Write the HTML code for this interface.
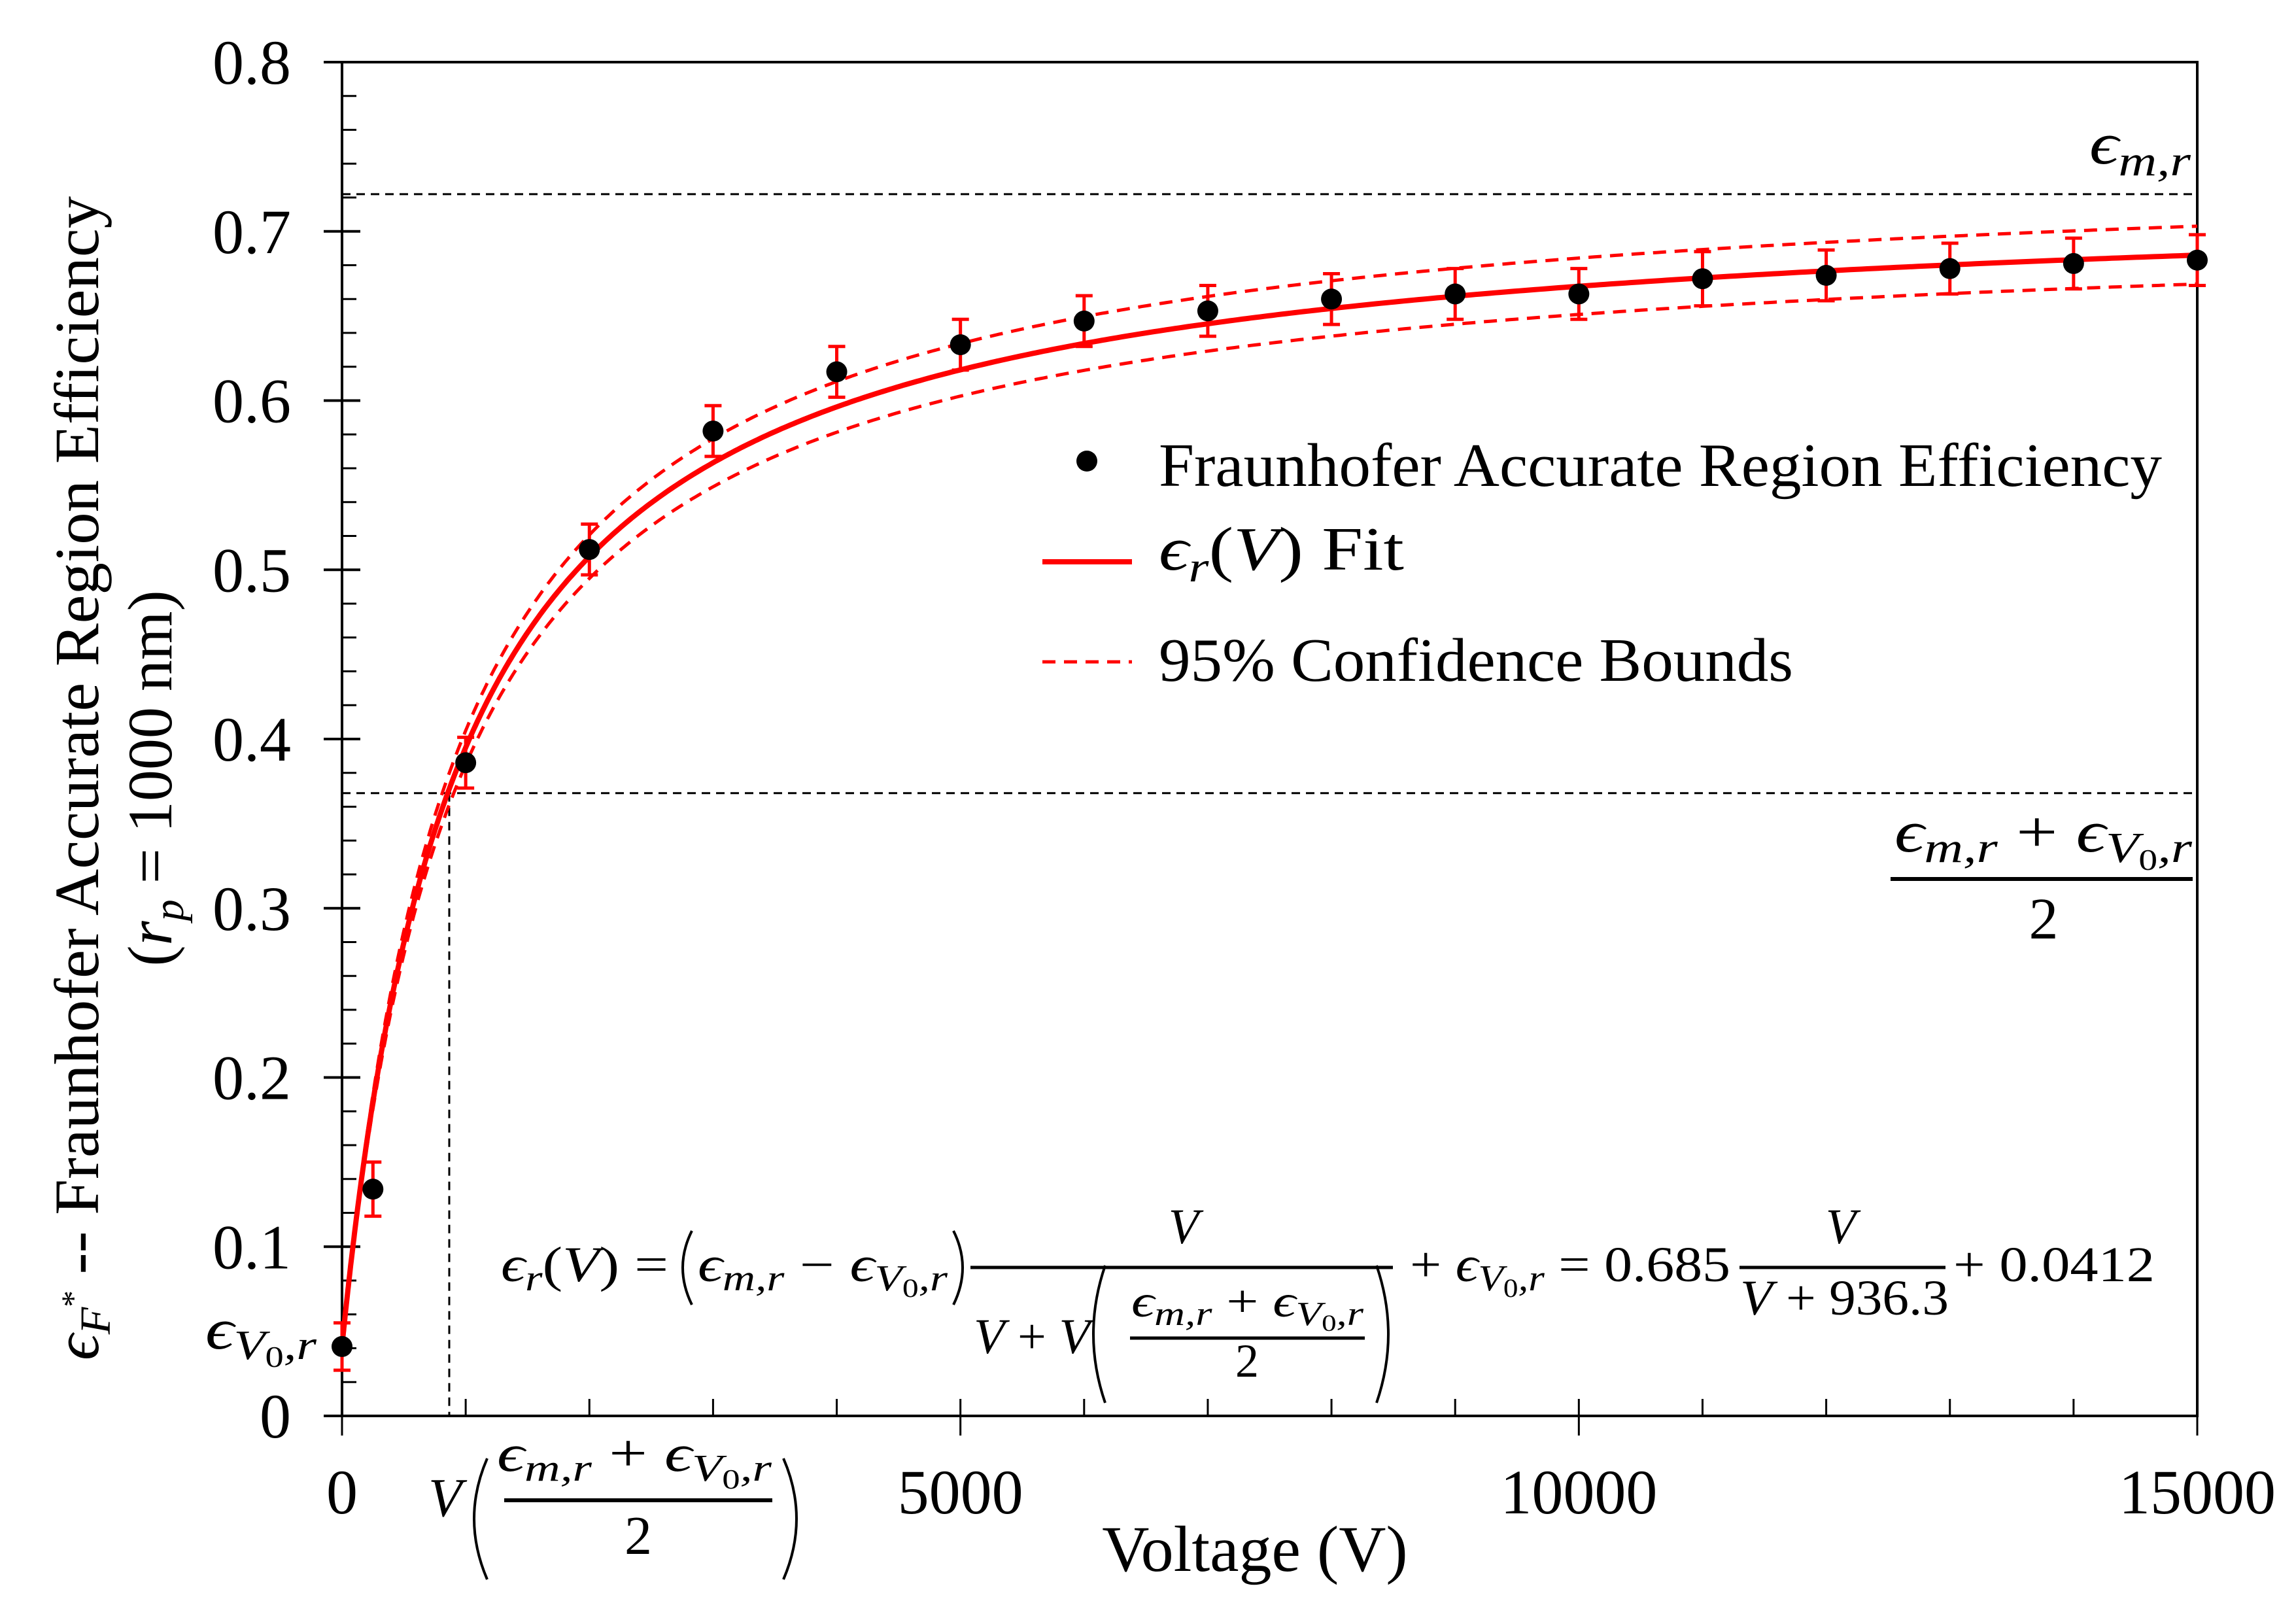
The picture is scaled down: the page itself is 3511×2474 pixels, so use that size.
<!DOCTYPE html>
<html><head><meta charset="utf-8"><style>
html,body{margin:0;padding:0;background:#fff;}
svg{display:block;font-family:"Liberation Serif",serif;}
.m{font-style:italic;}
.par{fill:none;stroke:#000;stroke-width:4;}
</style></head><body>
<svg id="chart" width="3511" height="2474" viewBox="0 0 3511 2474" xmlns="http://www.w3.org/2000/svg">
<g id="axes"></g>
<g id="marks"></g>

<text transform="translate(150,1190) rotate(-90)" text-anchor="middle" font-size="96" textLength="1780" lengthAdjust="spacingAndGlyphs"><tspan class="m">ϵ</tspan><tspan class="m" font-size="66" dy="18">F</tspan><tspan font-size="50" dy="-40">*</tspan><tspan dy="22"> -- Fraunhofer Accurate Region Efficiency</tspan></text>
<text transform="translate(262,1190) rotate(-90)" text-anchor="middle" font-size="96">(<tspan class="m">r</tspan><tspan class="m" font-size="66" dy="18">p</tspan><tspan dy="-18"> = 1000 nm)</tspan></text>

<text x="1919" y="2402" text-anchor="middle" font-size="100">Voltage (V)</text>

<g>
<circle cx="1662" cy="705" r="16" fill="#000"/>
<text x="1772" y="743" font-size="94" textLength="1534" lengthAdjust="spacingAndGlyphs">Fraunhofer Accurate Region Efficiency</text>
<line x1="1594" y1="859" x2="1731" y2="859" stroke="#f00" stroke-width="8"/>
<text x="1772" y="871" font-size="94" textLength="375" lengthAdjust="spacingAndGlyphs"><tspan class="m">ϵ</tspan><tspan class="m" font-size="66" dy="18">r</tspan><tspan dy="-18">(</tspan><tspan class="m">V</tspan>) Fit</text>
<line x1="1594" y1="1012" x2="1731" y2="1012" stroke="#f00" stroke-width="5" stroke-dasharray="20,13"/>
<text x="1772" y="1041" font-size="94" textLength="970" lengthAdjust="spacingAndGlyphs">95% Confidence Bounds</text>
</g>

<text x="3195" y="250" font-size="90" class="m" textLength="155" lengthAdjust="spacingAndGlyphs">ϵ<tspan font-size="66" dy="18">m,r</tspan></text>
<g>
<text x="2897" y="1302" font-size="90" class="m" textLength="455" lengthAdjust="spacingAndGlyphs">ϵ<tspan font-size="66" dy="16">m,r</tspan><tspan font-style="normal" dy="-16"> + </tspan>ϵ<tspan font-size="66" dy="16">V</tspan><tspan font-size="46" dy="12" font-style="normal">0</tspan><tspan font-size="66" dy="-12">,r</tspan></text>
<line x1="2891" y1="1344" x2="3353" y2="1344" stroke="#000" stroke-width="6"/>
<text x="3125" y="1435" text-anchor="middle" font-size="90">2</text>
</g>
<text x="314" y="2062" font-size="88" class="m" textLength="170" lengthAdjust="spacingAndGlyphs">ϵ<tspan font-size="64" dy="16">V</tspan><tspan font-size="46" dy="12" font-style="normal">0</tspan><tspan font-size="64" dy="-12">,r</tspan></text>

<g>
<text x="655" y="2318" font-size="84" class="m">V</text>
<path class="par" d="M745,2230 Q705,2322 745,2415"/>
<text x="760" y="2249" font-size="80" class="m" textLength="420" lengthAdjust="spacingAndGlyphs">ϵ<tspan font-size="58" dy="15">m,r</tspan><tspan font-style="normal" dy="-15"> + </tspan>ϵ<tspan font-size="58" dy="15">V</tspan><tspan font-size="42" dy="12" font-style="normal">0</tspan><tspan font-size="58" dy="-12">,r</tspan></text>
<line x1="771" y1="2294" x2="1181" y2="2294" stroke="#000" stroke-width="6"/>
<text x="976" y="2376" text-anchor="middle" font-size="84">2</text>
<path class="par" d="M1198,2230 Q1238,2322 1198,2415"/>
</g>

<g font-size="76">
<text x="766" y="1959" class="m" textLength="256" lengthAdjust="spacingAndGlyphs">ϵ<tspan font-size="56" dy="14">r</tspan><tspan font-style="normal" dy="-14">(</tspan>V<tspan font-style="normal">) =</tspan></text>
<path class="par" d="M1058,1882 Q1030,1938 1058,1995"/>
<text x="1067" y="1959" class="m" textLength="382" lengthAdjust="spacingAndGlyphs">ϵ<tspan font-size="56" dy="14">m,r</tspan><tspan font-style="normal" dy="-14"> − </tspan>ϵ<tspan font-size="56" dy="14">V</tspan><tspan font-size="40" dy="10" font-style="normal">0</tspan><tspan font-size="56" dy="-10">,r</tspan></text>
<path class="par" d="M1458,1882 Q1486,1938 1458,1995"/>
<text x="1810" y="1901" text-anchor="middle" class="m">V</text>
<line x1="1484" y1="1938" x2="2130" y2="1938" stroke="#000" stroke-width="5"/>
<text x="1489" y="2069" class="m" textLength="178" lengthAdjust="spacingAndGlyphs">V<tspan font-style="normal"> + </tspan>V</text>
<path class="par" d="M1690,1935 Q1654,2040 1690,2145"/>
<text x="1730" y="2013" font-size="70" class="m" textLength="355" lengthAdjust="spacingAndGlyphs">ϵ<tspan font-size="52" dy="13">m,r</tspan><tspan font-style="normal" dy="-13"> + </tspan>ϵ<tspan font-size="52" dy="13">V</tspan><tspan font-size="36" dy="9" font-style="normal">0</tspan><tspan font-size="52" dy="-9">,r</tspan></text>
<line x1="1728" y1="2046" x2="2087" y2="2046" stroke="#000" stroke-width="5"/>
<text x="1907" y="2105" text-anchor="middle" font-size="72">2</text>
<path class="par" d="M2105,1935 Q2141,2040 2105,2145"/>
<text x="2156" y="1959" textLength="490" lengthAdjust="spacingAndGlyphs"><tspan>+ </tspan><tspan class="m">ϵ</tspan><tspan class="m" font-size="56" dy="14">V</tspan><tspan font-size="40" dy="10">0</tspan><tspan class="m" font-size="56" dy="-10">,r</tspan><tspan dy="-14"> = 0.685</tspan></text>
<text x="2815" y="1901" text-anchor="middle" class="m">V</text>
<line x1="2660" y1="1938" x2="2975" y2="1938" stroke="#000" stroke-width="5"/>
<text x="2661" y="2010" textLength="319" lengthAdjust="spacingAndGlyphs"><tspan class="m">V</tspan> + 936.3</text>
<text x="2987" y="1959" textLength="308" lengthAdjust="spacingAndGlyphs">+ 0.0412</text>
</g>
</svg>
<script>
// ---- chart data ----
const voltages = [0, 250, 1000, 2000, 3000, 4000, 5000, 6000, 7000, 8000, 9000, 10000, 11000, 12000, 13000, 14000, 15000];
const efficiencies = [0.041, 0.134, 0.386, 0.512, 0.582, 0.617, 0.633, 0.647, 0.653, 0.660, 0.663, 0.663, 0.672, 0.674, 0.678, 0.681, 0.683];
const errors = [0.014, 0.016, 0.015, 0.015, 0.015, 0.015, 0.015, 0.015, 0.015, 0.015, 0.015, 0.015, 0.016, 0.015, 0.015, 0.015, 0.015];
const fitParams = [0.685, 936.3, 0.0412];
const boundParams = [0.018, 800];
const referenceLevels = [0.722, 0.368];
const halfVoltage = [867];
const xTickValues = [0, 5000, 10000, 15000];
const xTickLabels = ["0", "5000", "10000", "15000"];
const yTickValues = [0, 0.1, 0.2, 0.3, 0.4, 0.5, 0.6, 0.7, 0.8];
const yTickLabels = ["0", "0.1", "0.2", "0.3", "0.4", "0.5", "0.6", "0.7", "0.8"];

const X0 = 523, X1 = 3360, Y0 = 2165, Y1 = 95;
const xMax = 15000, yMax = 0.8;
function sx(v){ return X0 + (v / xMax) * (X1 - X0); }
function sy(v){ return Y0 - (v / yMax) * (Y0 - Y1); }
const NS = "http://www.w3.org/2000/svg";
function mk(tag, attrs, parent){
  const e = document.createElementNS(NS, tag);
  for (const k in attrs) e.setAttribute(k, attrs[k]);
  parent.appendChild(e);
  return e;
}
const axes = document.getElementById("axes");
const marks = document.getElementById("marks");

const frame = mk("rect", {x: X0, y: Y1, width: X1 - X0, height: Y0 - Y1, fill: "none", stroke: "#000", "stroke-width": 4}, axes);



for (let i = 0; i < yTickValues.length; i++) {
  const y = sy(yTickValues[i]);
  const t = mk("line", {x1: X0 - 28, y1: y, x2: X0 + 28, y2: y, stroke: "#000", "stroke-width": 4}, axes);
  
  
  const lb = mk("text", {x: 445, y: y + 33, "text-anchor": "end", "font-size": 96}, axes);
  lb.textContent = yTickLabels[i];
  
  
}
for (let v = 0.02; v < yMax; v += 0.02) {
  if (Math.abs(v * 10 - Math.round(v * 10)) < 1e-6) continue;
  const y = sy(v);
  const t = mk("line", {x1: X0, y1: y, x2: X0 + 22, y2: y, stroke: "#000", "stroke-width": 3}, axes);
  
  
}
for (let i = 0; i < xTickValues.length; i++) {
  const x = sx(xTickValues[i]);
  const t = mk("line", {x1: x, y1: Y0 - 26, x2: x, y2: Y0 + 30, stroke: "#000", "stroke-width": 3}, axes);
  
  
  const lb = mk("text", {x: x, y: 2314, "text-anchor": "middle", "font-size": 96}, axes);
  lb.textContent = xTickLabels[i];
  
  
}
for (let v = 1000; v < xMax; v += 1000) {
  if (v % 5000 === 0) continue;
  const x = sx(v);
  const t = mk("line", {x1: x, y1: Y0 - 26, x2: x, y2: Y0, stroke: "#000", "stroke-width": 3}, axes);
  
  
}

const emLine = mk("line", {x1: X0, y1: sy(referenceLevels[0]), x2: X1, y2: sy(referenceLevels[0]), stroke: "#000", "stroke-width": 3, "stroke-dasharray": "13,9"}, marks);


const halfLine = mk("line", {x1: X0, y1: sy(referenceLevels[1]), x2: X1, y2: sy(referenceLevels[1]), stroke: "#000", "stroke-width": 3, "stroke-dasharray": "13,9"}, marks);


const vLine = mk("line", {x1: sx(halfVoltage[0]), y1: sy(referenceLevels[1]), x2: sx(halfVoltage[0]), y2: Y0, stroke: "#000", "stroke-width": 3, "stroke-dasharray": "13,9"}, marks);



function fitAt(v){ return fitParams[0] * v / (v + fitParams[1]) + fitParams[2]; }
function deltaAt(v){ return boundParams[0] * v / (v + boundParams[1]); }
function curve(fn){
  let d = "";
  for (let i = 0; i <= 600; i++) {
    const v = xMax * Math.pow(i / 600, 2);
    d += (i ? "L" : "M") + sx(v).toFixed(1) + "," + sy(fn(v)).toFixed(1);
  }
  return d;
}
const up = mk("path", {d: curve(v => fitAt(v) + deltaAt(v)), fill: "none", stroke: "#f00", "stroke-width": 5, "stroke-dasharray": "20,13"}, marks);


const lo = mk("path", {d: curve(v => fitAt(v) - deltaAt(v)), fill: "none", stroke: "#f00", "stroke-width": 5, "stroke-dasharray": "20,13"}, marks);


const fit = mk("path", {d: curve(fitAt), fill: "none", stroke: "#f00", "stroke-width": 8}, marks);



for (let i = 0; i < voltages.length; i++) {
  const x = sx(voltages[i]);
  const yt = sy(efficiencies[i] + errors[i]), yb = sy(efficiencies[i] - errors[i]);
  const eb = mk("path", {d: `M${x},${yt}L${x},${yb}M${x-13},${yt}L${x+13},${yt}M${x-13},${yb}L${x+13},${yb}`, stroke: "#f00", "stroke-width": 5, fill: "none"}, marks);
  
  
}
for (let i = 0; i < voltages.length; i++) {
  const c = mk("circle", {cx: sx(voltages[i]), cy: sy(efficiencies[i]), r: 16, fill: "#000"}, marks);
  
  
}
</script>
</body></html>
